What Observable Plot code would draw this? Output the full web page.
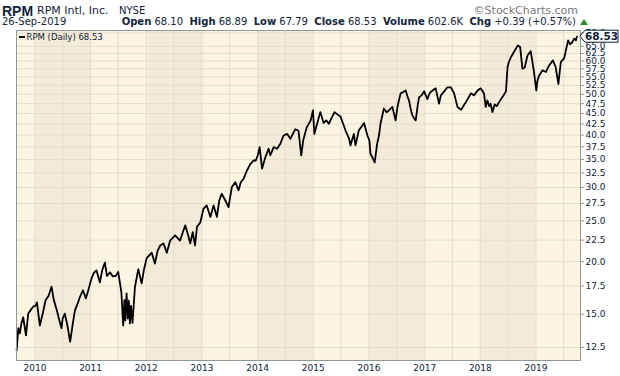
<!DOCTYPE html>
<html><head><meta charset="utf-8">
<script src="https://cdn.jsdelivr.net/npm/d3@7"></script>
<script src="https://cdn.jsdelivr.net/npm/@observablehq/plot@0.6"></script>
<style>
body{margin:0;background:#fff;width:620px;height:376px;overflow:hidden;font-family:"DejaVu Sans",Verdana,sans-serif;}
#hdr{position:relative;height:29px;width:620px;color:#12243a;}
#hdr span{position:absolute;white-space:nowrap;line-height:1;}
#chart svg{display:block;}
</style></head><body>
<div id="hdr">
 <span style="left:2px;top:3px;font:bold 14px 'Liberation Sans',Arial,sans-serif;">RPM</span>
 <span style="left:37px;top:5px;font-size:11px;">RPM Intl, Inc.</span>
 <span style="left:119px;top:6px;font-size:10px">NYSE</span>
 <span style="right:42px;top:5px;font-size:11px;color:#777">©StockCharts.com</span>
 <span style="left:2px;top:17px;font-size:10px">26-Sep-2019</span>
 <span id="stats" style="right:44px;top:17px;font-size:10px"></span>
 <span style="left:580px;top:19px;width:0;height:0;border-left:4px solid transparent;border-right:4px solid transparent;border-bottom:6px solid #2e8b2e;"></span>
</div>
<div id="chart"></div>
<script>
const symbol = "RPM";
const lastClose = 68.53;
const statLabels = ["Open", "High", "Low", "Close", "Volume", "Chg"];
const statValues = ["68.10", "68.89", "67.79", "68.53", "602.6K", "+0.39 (+0.57%)"];

const dates = [
"2009-09-03","2009-09-14","2009-09-24","2009-10-05","2009-10-16","2009-11-03","2009-11-18","2009-12-07","2009-12-22",
"2010-01-04","2010-01-14","2010-02-02","2010-02-22","2010-03-12","2010-04-01","2010-04-20","2010-05-05","2010-05-25","2010-06-07","2010-06-24","2010-07-02","2010-07-16","2010-08-02","2010-08-20","2010-09-07","2010-09-20","2010-10-11","2010-10-22","2010-11-12","2010-12-01","2010-12-17",
"2011-01-07","2011-01-24","2011-02-09","2011-03-03","2011-03-18","2011-04-05","2011-04-18","2011-05-09","2011-05-27","2011-06-16","2011-07-01","2011-07-12","2011-07-22","2011-08-03","2011-08-11","2011-08-17","2011-08-25","2011-09-02","2011-09-09","2011-09-16","2011-09-23","2011-10-03","2011-10-19","2011-11-10","2011-12-02","2011-12-16",
"2012-01-04","2012-02-06","2012-02-27","2012-03-16","2012-04-02","2012-04-23","2012-05-15","2012-06-06","2012-07-09","2012-08-10","2012-09-13","2012-10-02","2012-10-16","2012-11-01","2012-11-16","2012-11-29","2012-12-21",
"2013-01-11","2013-02-01","2013-02-25","2013-03-18","2013-04-09","2013-04-24","2013-05-10","2013-06-03","2013-06-24","2013-07-16","2013-08-07","2013-08-29","2013-09-12","2013-10-01","2013-10-23","2013-11-14","2013-12-05","2013-12-20",
"2014-01-02","2014-01-14","2014-01-30","2014-02-20","2014-03-14","2014-03-25","2014-04-16","2014-05-08","2014-05-30","2014-06-20","2014-07-14","2014-08-04","2014-08-21","2014-09-05","2014-09-26","2014-10-14","2014-10-27","2014-11-18","2014-12-15","2014-12-30",
"2015-01-08","2015-01-23","2015-02-16","2015-03-10","2015-03-27","2015-04-13","2015-04-30","2015-05-20","2015-06-17","2015-06-29","2015-07-20","2015-07-31","2015-08-24","2015-09-02","2015-09-24","2015-10-05","2015-10-27","2015-11-09","2015-11-30","2015-12-22",
"2016-01-04","2016-01-11","2016-01-25","2016-02-08","2016-02-24","2016-03-07","2016-03-17","2016-04-08","2016-04-26","2016-05-11","2016-06-03","2016-06-24","2016-07-08","2016-07-27","2016-08-12","2016-08-29","2016-09-12","2016-09-20","2016-10-03","2016-10-12","2016-10-24","2016-11-03","2016-11-16","2016-11-25","2016-12-12","2016-12-28",
"2017-01-18","2017-02-03","2017-02-21","2017-03-14","2017-04-05","2017-04-17","2017-05-05","2017-05-30","2017-06-21","2017-07-13","2017-07-24","2017-08-04","2017-08-28","2017-09-11","2017-09-28","2017-10-16","2017-10-31","2017-11-21","2017-12-14",
"2018-01-03","2018-01-25","2018-02-05","2018-02-16","2018-02-28","2018-03-09","2018-03-21","2018-04-05","2018-04-18","2018-05-04","2018-05-25","2018-06-18","2018-06-28","2018-07-06","2018-07-20","2018-08-10","2018-09-04","2018-09-19","2018-10-04","2018-10-19","2018-11-06","2018-11-27","2018-12-07","2018-12-19",
"2019-01-03","2019-01-11","2019-01-22","2019-02-13","2019-03-07","2019-03-28","2019-04-22","2019-05-10","2019-05-28","2019-06-13","2019-07-05","2019-07-16","2019-07-31","2019-08-12","2019-08-26","2019-09-09","2019-09-20","2019-09-26"
];
const closes = [
12.3,13.9,13.5,14.3,14.75,13.35,15.05,15.4,15.65,
15.7,16.0,14.1,15.1,16.2,16.6,17.45,16.2,15.3,14.65,13.9,14.65,15.05,14.1,12.9,14.3,15.3,16.0,16.45,17.1,16.35,17.1,
18.25,18.85,19.05,17.85,19.05,19.9,18.5,18.85,18.45,18.5,18.9,17.85,16.9,14.1,16.2,14.5,16.8,14.65,16.15,14.25,15.7,14.3,17.4,19.2,17.75,19.05,
20.4,21.0,19.8,21.25,21.85,22.1,21.0,22.45,23.1,22.45,24.4,23.1,22.1,23.5,21.85,24.2,24.8,
26.75,27.2,25.55,27.2,25.55,27.95,29.0,27.95,26.95,30.1,30.9,29.55,30.85,31.5,32.95,34.1,34.8,34.8,
35.8,37.45,33.3,35.35,37.1,35.8,37.45,37.1,38.15,39.9,40.25,39.2,40.3,41.3,40.95,35.8,38.85,41.65,43.35,45.8,
40.25,42.15,45.35,42.75,43.35,42.55,43.8,45.35,44.55,44.2,42.15,41.05,39.2,37.8,40.25,37.8,41.05,41.65,42.75,39.9,
38.85,36.1,35.3,34.45,38.15,39.9,42.55,46.25,45.3,45.8,46.65,43.35,47.05,50.25,50.6,51.05,49.15,48.35,45.8,44.55,43.8,43.35,47.05,49.2,49.7,50.85,
48.7,50.35,51.05,51.65,47.5,49.7,50.6,51.95,51.95,50.25,48.35,46.65,45.95,46.85,47.9,49.15,50.25,49.7,51.05,
51.65,50.25,46.65,48.35,46.85,47.5,45.35,47.3,46.85,47.9,49.2,50.8,57.9,59.5,61.2,63.1,65.35,64.8,57.5,57.9,61.85,63.3,60.2,56.45,
51.05,53.95,55.45,57.0,56.5,58.55,60.2,58.05,52.9,59.7,60.9,63.55,67.15,65.7,66.4,67.8,67.2,68.53
];
const yTicks = [12.5,15,17.5,20,22.5,25,27.5,30,32.5,35,37.5,40,42.5,45,47.5,50,52.5,55,57.5,60,62.5,65,70];
const years = [2010,2011,2012,2013,2014,2015,2016,2017,2018,2019];
const yDomain = [11.64, 70.9];
const xDomain = ["2009-09-02", "2019-10-20"];

document.getElementById("stats").innerHTML = statLabels.map((l,i)=>`<b>${l}</b> ${statValues[i]}`).join("&nbsp; ");

const data = dates.map((d,i)=>({date:new Date(d), close:closes[i]}));
const light="#fcf5e2", dark="#f3ebd8", grid="#e6ddca", axisCol="#8a9898", txt="#0d2236";
const bands = years.filter(y=>y%2===0).map(y=>({x1:new Date(Date.UTC(y,0,1)), x2:new Date(Date.UTC(y+1,0,1)), y1:yDomain[0], y2:yDomain[1]}));
const halfYears = years.flatMap(y=>[new Date(Date.UTC(y,0,1)), new Date(Date.UTC(y,6,1))]);
const yearTicks = years.map(y=>new Date(Date.UTC(y,0,1)));

const plot = Plot.plot({
  width:620, height:347, marginTop:1, marginBottom:16, marginLeft:16, marginRight:40,
  style:{fontFamily:"'DejaVu Sans',Verdana,sans-serif", fontSize:"9px", color:txt, background:"#fff"},
  x:{type:"utc", domain:xDomain.map(d=>new Date(d))},
  y:{type:"log", domain:yDomain},
  marks:[
    Plot.frame({fill:light}),
    Plot.rect(bands,{x1:"x1",x2:"x2",y1:"y1",y2:"y2",fill:dark}),
    Plot.ruleY(yTicks,{stroke:grid, strokeWidth:1}),
    Plot.ruleX(halfYears,{stroke:grid, strokeWidth:1}),
    Plot.line(data,{x:"date",y:"close",stroke:"#000",strokeWidth:1.8}),
    Plot.frame({stroke:axisCol}),
    Plot.axisY(yTicks,{anchor:"right", tickSize:3, tickPadding:2, tickFormat:d=>d.toFixed(1), stroke:axisCol, fill:txt, label:null}),
    Plot.axisX(yearTicks,{anchor:"bottom", tickSize:0, tickPadding:4, tickFormat:d=>String(d.getUTCFullYear()), fill:txt, label:null}),
    Plot.text([`${symbol} (Daily) ${lastClose.toFixed(2)}`],{frameAnchor:"top-left", dx:10, dy:3, textAnchor:"start", lineAnchor:"top", fill:txt, fontSize:8.5})
  ]
});
document.getElementById("chart").appendChild(plot);

// legend dash and price tag, positioned with the plot's own scales
const svg = d3.select(plot);
const ys = plot.scale("y");
const py = ys.apply(lastClose);
svg.append("line").attr("x1",19).attr("x2",25).attr("y1",8).attr("y2",8).attr("stroke","#000").attr("stroke-width",2);
const xr = 620-40;
svg.append("path")
  .attr("d",`M${xr},${py} L${xr+5},${py-6} L618,${py-6} L618,${py+6} L${xr+5},${py+6} Z`)
  .attr("fill","#fff").attr("stroke","#0d2236").attr("stroke-width",1);
svg.append("text").attr("x",601.5).attr("y",py).attr("dy","0.36em").attr("text-anchor","middle")
  .attr("font-family","'DejaVu Sans',Verdana,sans-serif").attr("font-weight","bold").attr("font-size",10.5)
  .attr("fill","#0d2236").text(lastClose.toFixed(2));
</script>
</body></html>
